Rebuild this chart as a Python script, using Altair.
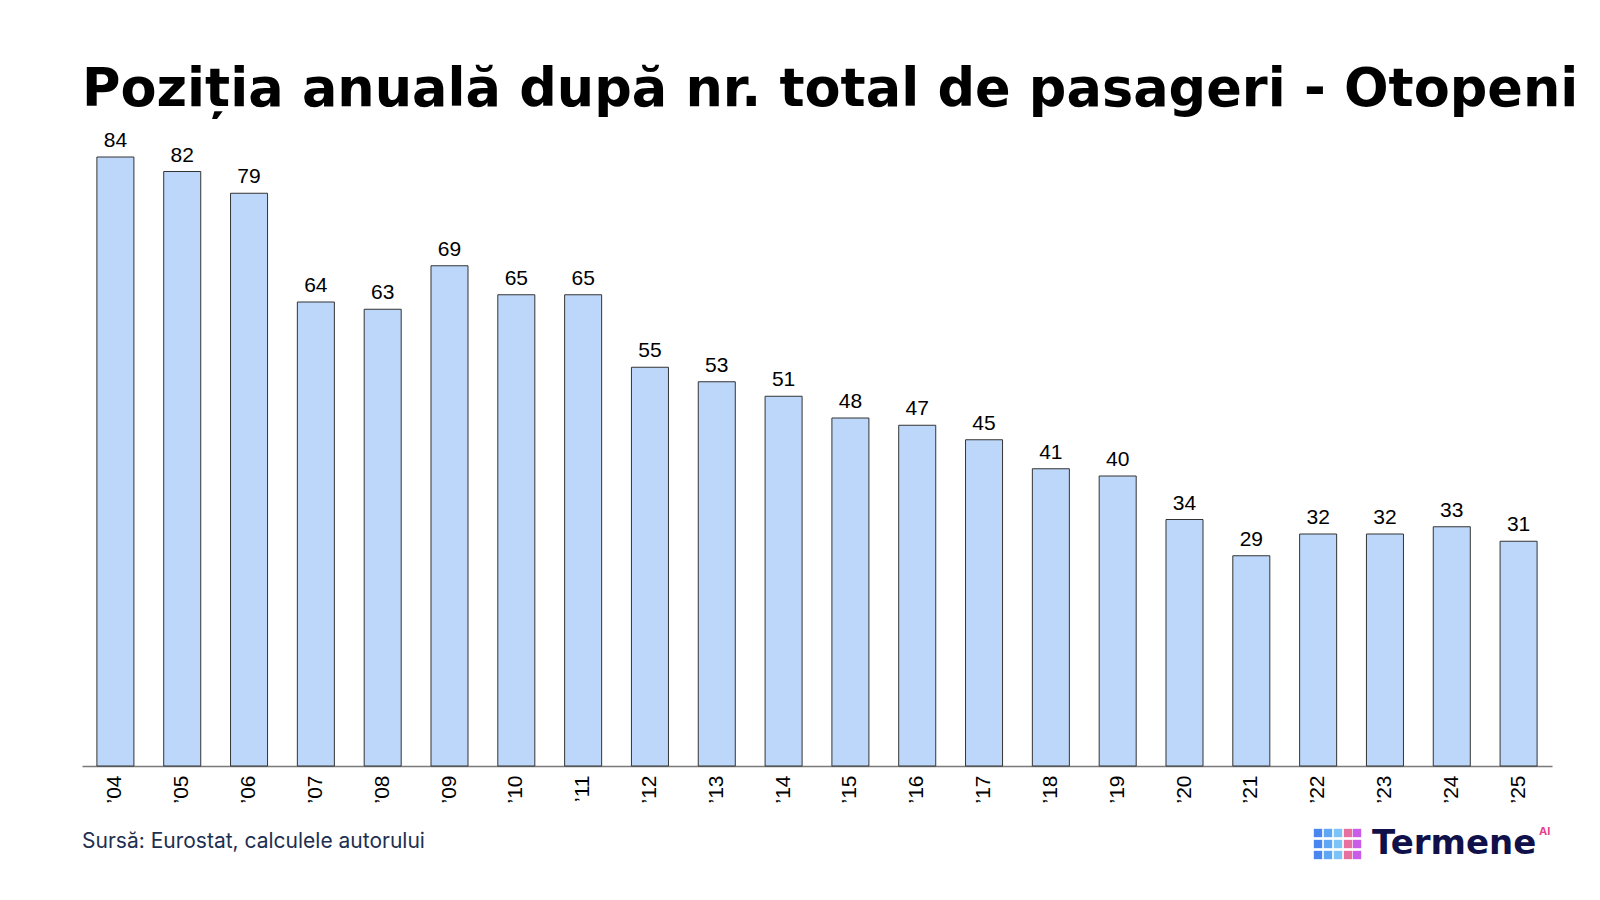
import altair as alt
import pandas as pd

years = ["’04", "’05", "’06", "’07", "’08", "’09", "’10", "’11", "’12", "’13", "’14",
         "’15", "’16", "’17", "’18", "’19", "’20", "’21", "’22", "’23", "’24", "’25"]
positions = [84, 82, 79, 64, 63, 69, 65, 65, 55, 53, 51, 48, 47, 45, 41, 40, 34, 29, 32, 32, 33, 31]

title_text = "Poziția anuală după nr. total de pasageri - Otopeni"
source_text = "Sursă: Eurostat, calculele autorului"
logo_text = "Termene"
logo_sup = "AI"

df = pd.DataFrame({"an": years, "pozitie": positions})

x_enc = alt.X("an:N", sort=years, title=None,
              scale=alt.Scale(paddingInner=0.446, paddingOuter=0.223),
              axis=alt.Axis(labelAngle=-90, labelFontSize=21, labelColor="#000000",
                            labelFont="Liberation Sans", labelPadding=9, ticks=False,
                            domainColor="#7a7a7a", domainWidth=1.5))
y_enc = alt.Y("pozitie:Q", title=None, scale=alt.Scale(domain=[0, 84], nice=False),
              axis=None)

bars = alt.Chart(df).mark_bar(color="#bdd7fb", stroke="#333333", strokeWidth=1).encode(
    x=x_enc, y=y_enc)

labels = alt.Chart(df).mark_text(baseline="alphabetic", dy=-10, fontSize=21,
                                 font="Liberation Sans", color="#000000").encode(
    x=alt.X("an:N", sort=years), y="pozitie:Q", text="pozitie:Q")

one = pd.DataFrame({"t": [0]})

title = alt.Chart(one).mark_text(text=title_text, align="left", baseline="alphabetic",
                                 font="DejaVu Sans", fontWeight="bold", fontSize=52.5,
                                 color="#000000").encode(
    x=alt.value(0), y=alt.value(-51))

source = alt.Chart(one).mark_text(text=source_text, align="left", baseline="alphabetic",
                                  font="Inter", fontSize=21, color="#1d2f50").encode(
    x=alt.value(0), y=alt.value(691))

logo = alt.Chart(one).mark_text(text=logo_text, align="left", baseline="alphabetic",
                                font="DejaVu Sans", fontWeight="bold", fontSize=34,
                                color="#10114a").encode(
    x=alt.value(1290), y=alt.value(697))

logo_ai = alt.Chart(one).mark_text(text=logo_sup, align="left", baseline="alphabetic",
                                   font="Inter", fontWeight="bold", fontSize=11,
                                   color="#e8408a").encode(
    x=alt.value(1457), y=alt.value(678))

icon_cols = [("#4a86f0", 1236), ("#5fa6f5", 1246), ("#7cc4f8", 1256),
             ("#e8709e", 1266), ("#c95ce8", 1275)]
icon_rows = [676, 687, 698]
icon_layers = []
for c, xv in icon_cols:
    for yv in icon_rows:
        icon_layers.append(
            alt.Chart(one).mark_square(size=70, color=c, opacity=1,
                                       cornerRadius=2).encode(
                x=alt.value(xv), y=alt.value(yv)))

chart = alt.layer(bars, labels, title, source, logo, logo_ai, *icon_layers).properties(
    width=1470, height=609,
    padding={"left": 74, "top": 149, "right": 40, "bottom": 126},
    autosize=alt.AutoSizeParams(type="none"),
    background="#ffffff",
).configure_view(stroke=None)

chart.save("out.html", embed_options={"renderer": "svg", "actions": False})
